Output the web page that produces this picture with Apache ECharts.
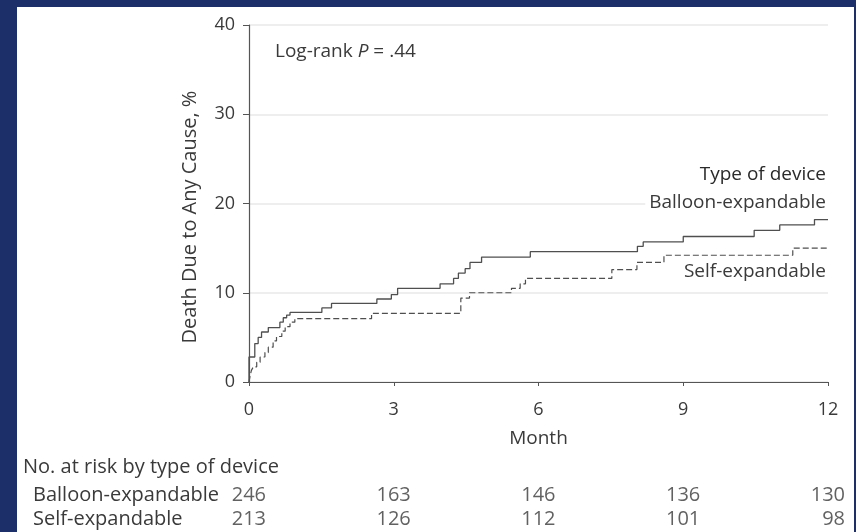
<!DOCTYPE html>
<html><head><meta charset="utf-8">
<script src="https://cdn.jsdelivr.net/npm/echarts@6/dist/echarts.min.js"></script>
<style>
html,body{margin:0;padding:0;background:#1d2f68;width:856px;height:532px;overflow:hidden}
#chart{position:absolute;left:17px;top:7px;width:837px;height:525px;background:#fff}
</style></head><body><div id="chart"></div>
<script>
// Kaplan-Meier cumulative mortality (%), step points: value holds from that month on
const balloonMonths = [0, 0, 0.12, 0.19, 0.26, 0.40, 0.64, 0.71, 0.78, 0.85, 1.51, 1.71, 2.65, 2.95, 3.08, 3.96, 4.24, 4.34, 4.48, 4.58, 4.82, 5.83, 8.05, 8.17, 9.00, 10.47, 11.00, 11.72, 12];
const balloonPct   = [0, 2.8, 4.3, 5.0, 5.6, 6.1, 6.7, 7.2, 7.5, 7.8, 8.3, 8.8, 9.3, 9.8, 10.5, 11.0, 11.6, 12.2, 12.7, 13.4, 14.0, 14.6, 15.2, 15.7, 16.3, 17.0, 17.6, 18.2, 18.2];
const selfMonths = [0, 0.02, 0.05, 0.09, 0.16, 0.23, 0.33, 0.40, 0.50, 0.57, 0.68, 0.75, 0.85, 0.95, 2.54, 4.39, 4.57, 5.44, 5.62, 5.73, 7.52, 8.04, 8.60, 11.27, 12];
const selfPct   = [0, 0.6, 1.3, 1.7, 2.2, 2.8, 3.3, 3.9, 4.6, 5.1, 5.7, 6.2, 6.7, 7.1, 7.7, 9.4, 10.0, 10.5, 11.0, 11.6, 12.6, 13.4, 14.2, 15.0, 15.0];

// Number at risk table
const riskMonths = [0, 3, 6, 9, 12];
const riskGroups = ['Balloon-expandable', 'Self-expandable'];
const riskBalloon = [246, 163, 146, 136, 130];
const riskSelf = [213, 126, 112, 101, 98];

const FONT = 'Open Sans';
const INK = '#3a3a3a';
const LINE = '#555';
const TICK_SIZE = 18;
const TEXT_SIZE = 19;
const TABLE_SIZE = 20;

const zip = (xs, ys) => xs.map((x, i) => [x, ys[i]]);
const riskData = [];
riskMonths.forEach((m, i) => {
  riskData.push([m, 0, riskBalloon[i]]);
  riskData.push([m, 1, riskSelf[i]]);
});

const chart = echarts.init(document.getElementById('chart'));
chart.setOption({
  animation: false,
  textStyle: { fontFamily: FONT, color: INK },
  grid: [
    { left: 232, top: 18, width: 579, height: 357 },
    { left: 232, top: 476, width: 579, height: 54 }
  ],
  xAxis: [
    {
      gridIndex: 0, type: 'value', min: 0, max: 12, interval: 3,
      name: 'Month', nameLocation: 'middle', nameGap: 47,
      nameTextStyle: { fontFamily: FONT, fontSize: TEXT_SIZE, color: INK },
      axisLine: { lineStyle: { color: LINE, width: 1.2 } },
      axisTick: { show: true, length: 4, lineStyle: { color: LINE } },
      axisLabel: { fontFamily: FONT, fontSize: TICK_SIZE, color: INK, margin: 19 },
      splitLine: { show: false }
    },
    {
      gridIndex: 1, type: 'value', min: 0, max: 12, show: false
    }
  ],
  yAxis: [
    {
      gridIndex: 0, type: 'value', min: 0, max: 40, interval: 10,
      axisLine: { show: true, lineStyle: { color: LINE, width: 1.2 } },
      axisTick: { show: true, length: 6, lineStyle: { color: LINE } },
      axisLabel: { fontFamily: FONT, fontSize: TICK_SIZE, color: INK, margin: 14 },
      splitLine: { show: true, lineStyle: { color: '#e8e8e8', width: 1.5 } }
    },
    {
      gridIndex: 1, type: 'category', data: riskGroups, inverse: true,
      axisLine: { show: false }, axisTick: { show: false },
      axisLabel: { interval: 0, fontFamily: FONT, fontSize: TABLE_SIZE, color: INK, align: 'left', margin: 216 }
    }
  ],
  series: [
    {
      name: 'Balloon-expandable', type: 'line', step: 'end', xAxisIndex: 0, yAxisIndex: 0,
      data: zip(balloonMonths, balloonPct), showSymbol: false, silent: true,
      lineStyle: { color: '#4f4f4f', width: 1.3 }
    },
    {
      name: 'Self-expandable', type: 'line', step: 'end', xAxisIndex: 0, yAxisIndex: 0,
      data: zip(selfMonths, selfPct), showSymbol: false, silent: true,
      lineStyle: { color: '#4f4f4f', width: 1.2, type: [6, 3] }
    },
    {
      name: 'At risk', type: 'scatter', xAxisIndex: 1, yAxisIndex: 1,
      data: riskData, symbolSize: 0, silent: true,
      label: {
        show: true, position: 'inside', align: 'right', offset: [17, 0],
        fontFamily: FONT, fontSize: TABLE_SIZE, color: INK,
        formatter: p => String(p.value[2])
      }
    }
  ],
  graphic: [
    {
      type: 'text', x: 173, y: 210, rotation: Math.PI / 2,
      style: { text: 'Death Due to Any Cause, %', fontFamily: FONT, fontSize: 20, fill: INK, align: 'center', verticalAlign: 'middle' }
    },
    {
      type: 'text', x: 258, y: 45,
      style: {
        text: '{a|Log-rank }{i|P}{a| = .44}',
        rich: {
          a: { fontFamily: FONT, fontSize: TEXT_SIZE, fill: INK, color: INK },
          i: { fontFamily: FONT, fontSize: TEXT_SIZE, fontStyle: 'italic', fill: INK, color: INK }
        },
        verticalAlign: 'middle'
      }
    },
    {
      type: 'text', x: 813, y: 168, z: 10,
      style: { text: 'Type of device', fontFamily: FONT, fontSize: TEXT_SIZE, fill: '#2a2a2a', align: 'right', verticalAlign: 'middle', backgroundColor: '#fff', padding: [2, 4] }
    },
    {
      type: 'text', x: 813, y: 196, z: 10,
      style: { text: 'Balloon-expandable', fontFamily: FONT, fontSize: TEXT_SIZE, fill: INK, align: 'right', verticalAlign: 'middle', backgroundColor: '#fff', padding: [2, 4] }
    },
    {
      type: 'text', x: 813, y: 265, z: 10,
      style: { text: 'Self-expandable', fontFamily: FONT, fontSize: TEXT_SIZE, fill: INK, align: 'right', verticalAlign: 'middle', backgroundColor: '#fff', padding: [2, 4] }
    },
    {
      type: 'text', x: 6, y: 460,
      style: { text: 'No. at risk by type of device', fontFamily: FONT, fontSize: TABLE_SIZE, fill: INK, align: 'left', verticalAlign: 'middle' }
    }
  ]
});
</script></body></html>
